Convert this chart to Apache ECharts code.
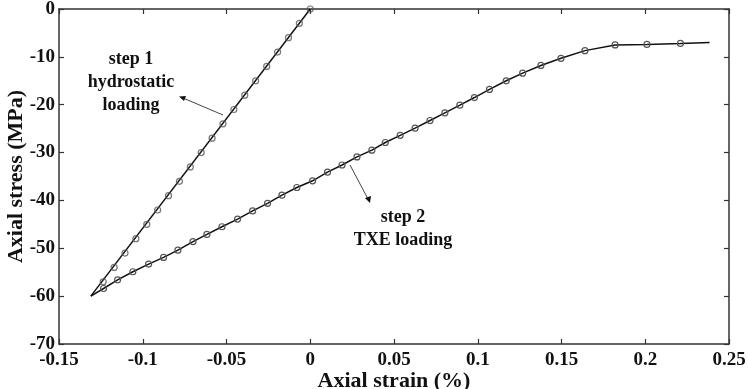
<!DOCTYPE html>
<html><head><meta charset="utf-8">
<script src="https://cdn.jsdelivr.net/npm/echarts@6/dist/echarts.min.js"></script>
<style>html,body{margin:0;padding:0;background:#fff}#c{width:748px;height:389px}</style>
</head><body><div id="c"></div>
<script>
// Step 1: hydrostatic loading (line endpoints + markers)
const step1Line = [[-0.131, -60], [0, 0]];
const step1Stress = [-57,-54,-51,-48,-45,-42,-39,-36,-33,-30,-27,-24,-21,-18,-15,-12,-9,-6,-3,0];
const step1Strain = [-0.1236,-0.1171,-0.1106,-0.1041,-0.0976,-0.0911,-0.0846,-0.0781,-0.0716,-0.0651,-0.0586,-0.0521,-0.0456,-0.0391,-0.0326,-0.0260,-0.0195,-0.0130,-0.0065,0];
// Step 2: TXE loading
const step2Strain = [-0.131,-0.1234,-0.115,-0.1059,-0.0965,-0.0876,-0.079,-0.070,-0.0617,-0.0527,-0.0434,-0.0344,-0.0255,-0.0169,-0.008,0.0014,0.0103,0.019,0.0279,0.0368,0.0448,0.0537,0.0626,0.0715,0.0804,0.0893,0.098,0.107,0.117,0.1268,0.1377,0.1497,0.164,0.182,0.201,0.221,0.2384];
const step2Stress = [-60,-58.4,-56.6,-54.9,-53.3,-51.9,-50.4,-48.6,-47.1,-45.5,-43.9,-42.2,-40.6,-38.9,-37.3,-35.9,-34.1,-32.6,-30.9,-29.5,-27.9,-26.4,-24.9,-23.3,-21.7,-20.1,-18.5,-16.8,-15.0,-13.4,-11.8,-10.3,-8.7,-7.5,-7.4,-7.2,-7.0];
const step2Marked = step2Strain.map((_, i) => i > 0 && i < step2Strain.length - 1);
const xTicks = [-0.15,-0.1,-0.05,0,0.05,0.1,0.15,0.2,0.25];
const yTicks = [-70,-60,-50,-40,-30,-20,-10,0];

const chart = echarts.init(document.getElementById('c'));
const font = '"Liberation Serif","Times New Roman",serif';
const axisCommon = () => ({
  axisLine: {show: true, onZero: false, lineStyle: {color: '#333', width: 1.5}},
  axisTick: {show: true, inside: true, length: 5, lineStyle: {color: '#333', width: 1.2}},
  splitLine: {show: false}
});
const mk = {color: 'transparent', borderColor: '#555', borderWidth: 1.2};
chart.setOption({
  animation: false,
  backgroundColor: '#fff',
  grid: {left: 59, right: 19, top: 9, bottom: 45, containLabel: false, outerBoundsMode: 'none'},
  xAxis: [
    Object.assign({type: 'value', min: -0.15, max: 0.25, interval: 0.05, position: 'bottom',
      name: 'Axial strain (%)', nameLocation: 'middle', nameGap: 26, nameMoveOverlap: false,
      nameTextStyle: {fontFamily: font, fontWeight: 'bold', fontSize: 22, color: '#111'},
      axisLabel: {fontFamily: font, fontWeight: 'bold', fontSize: 19, color: '#111', margin: 7,
        formatter: v => { const t = xTicks.find(x => Math.abs(x - v) < 1e-9); return String(t); }}
    }, axisCommon()),
    Object.assign({type: 'value', min: -0.15, max: 0.25, interval: 0.05, position: 'top',
      axisLabel: {show: false}}, axisCommon())
  ],
  yAxis: [
    Object.assign({type: 'value', min: -70, max: 0, interval: 10, position: 'left',
      name: 'Axial stress (MPa)', nameLocation: 'middle', nameGap: 32, nameRotate: 90, nameMoveOverlap: false,
      nameTextStyle: {fontFamily: font, fontWeight: 'bold', fontSize: 22, color: '#111'},
      axisLabel: {fontFamily: font, fontWeight: 'bold', fontSize: 19, color: '#111', margin: 4,
        formatter: v => { const t = yTicks.find(y => Math.abs(y - v) < 1e-9); return String(t); }}
    }, axisCommon()),
    Object.assign({type: 'value', min: -70, max: 0, interval: 10, position: 'right',
      axisLabel: {show: false}}, axisCommon())
  ],
  series: [
    {type: 'line', data: step1Line, symbol: 'none', lineStyle: {color: '#111', width: 1.5}, z: 2},
    {type: 'scatter', data: step1Strain.map((x, i) => [x, step1Stress[i]]), symbol: 'circle', symbolSize: 6, itemStyle: mk, z: 3},
    {type: 'line', data: step2Strain.map((x, i) => ({value: [x, step2Stress[i]], symbol: step2Marked[i] ? 'circle' : 'none'})),
      symbolSize: 6, showSymbol: true, itemStyle: mk, lineStyle: {color: '#111', width: 1.5}, z: 2}
  ],
  graphic: [
    {type: 'text', x: 131, y: 82, style: {text: 'step 1\nhydrostatic\nloading', fontFamily: font, fontWeight: 'bold', fontSize: 18, lineHeight: 23, fill: '#111', align: 'center', verticalAlign: 'middle'}},
    {type: 'text', x: 403, y: 229, style: {text: 'step 2\nTXE loading', fontFamily: font, fontWeight: 'bold', fontSize: 18, lineHeight: 23, fill: '#111', align: 'center', verticalAlign: 'middle'}},
    {type: 'line', shape: {x1: 223, y1: 115, x2: 183, y2: 98}, style: {stroke: '#444', lineWidth: 1}},
    {type: 'polygon', shape: {points: [[179, 96.5], [186, 96], [184, 101]]}, style: {fill: '#111'}},
    {type: 'line', shape: {x1: 350, y1: 165, x2: 368, y2: 199}, style: {stroke: '#444', lineWidth: 1}},
    {type: 'polygon', shape: {points: [[370, 203], [365, 198], [371, 196]]}, style: {fill: '#111'}}
  ]
});
</script></body></html>
